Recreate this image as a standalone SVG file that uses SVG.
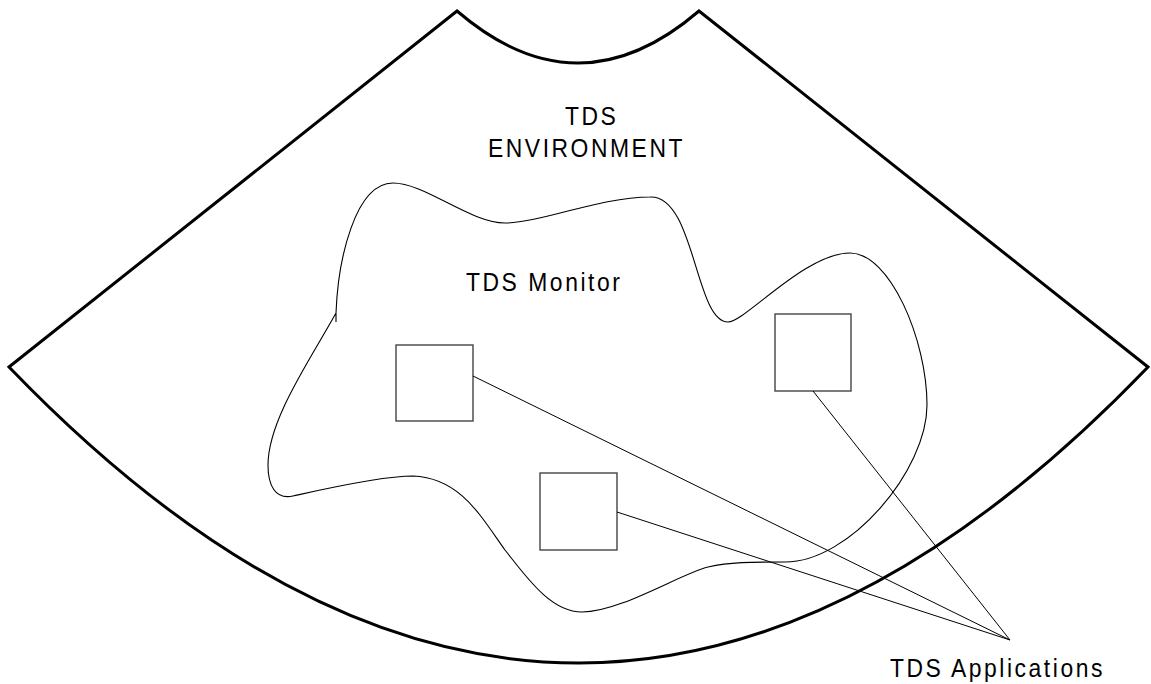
<svg xmlns="http://www.w3.org/2000/svg" width="1151" height="684" viewBox="0 0 1151 684">
  <style>
    .label { font-family: "Liberation Sans", Arial, sans-serif; font-size: 26px; letter-spacing: 2.9px; fill: #000; }
    .sector { fill: none; stroke: #000; stroke-width: 3; stroke-linejoin: miter; }
    .blob { fill: none; stroke: #000; stroke-width: 1.1; }
    .app { fill: #fff; stroke: #444; stroke-width: 1.4; }
    .link { stroke: #000; stroke-width: 1; fill: none; }
  </style>

  <rect width="1151" height="684" fill="#fff"/>

  <!-- environment: annular sector outline -->
  <g id="environment">
    <path class="sector" d="M 457,11 L 9,367 Q 579,959 1148,367 L 699,11 Q 578,115 457,11 Z"/>
    <text class="label" transform="translate(565,125) scale(0.88,1)">TDS</text>
    <text class="label" transform="translate(488,157) scale(0.88,1)">ENVIRONMENT</text>
  </g>

  <!-- monitor: free-form region -->
  <g id="monitor">
    <path class="blob" d="M 336,322 L 336,313
      C 338,260 355,183 393,183
      C 425,183 470,223 505,223
      C 540,223 600,197 650,197
      C 695,195 695,322 728,322
      C 745,322 805,253 850,253
      C 890,253 927,340 927,405
      C 927,470 850,562 785,562
      C 750,562 730,562 708,567
      C 680,574 620,612 582,612
      C 550,612 525,575 505,550
      C 480,515 460,478 413,476
      C 380,476 320,490 293,496
      C 275,500 268,485 268,465
      C 268,420 310,360 336,313"/>
    <text class="label" transform="translate(466,291) scale(0.88,1)">TDS Monitor</text>
  </g>

  <!-- application boxes -->
  <g id="app-1"><rect class="app" x="396" y="345" width="77" height="76"/></g>
  <g id="app-2"><rect class="app" x="540" y="473" width="77" height="77"/></g>
  <g id="app-3"><rect class="app" x="775" y="314" width="76" height="77"/></g>

  <!-- leader lines to the applications label -->
  <g id="connectors">
    <line class="link" x1="473" y1="376" x2="1010" y2="640"/>
    <line class="link" x1="617" y1="512" x2="1010" y2="640"/>
    <line class="link" x1="813" y1="391" x2="1010" y2="640"/>
  </g>

  <g id="applications-label">
    <text class="label" transform="translate(890,677) scale(0.88,1)">TDS Applications</text>
  </g>
</svg>
